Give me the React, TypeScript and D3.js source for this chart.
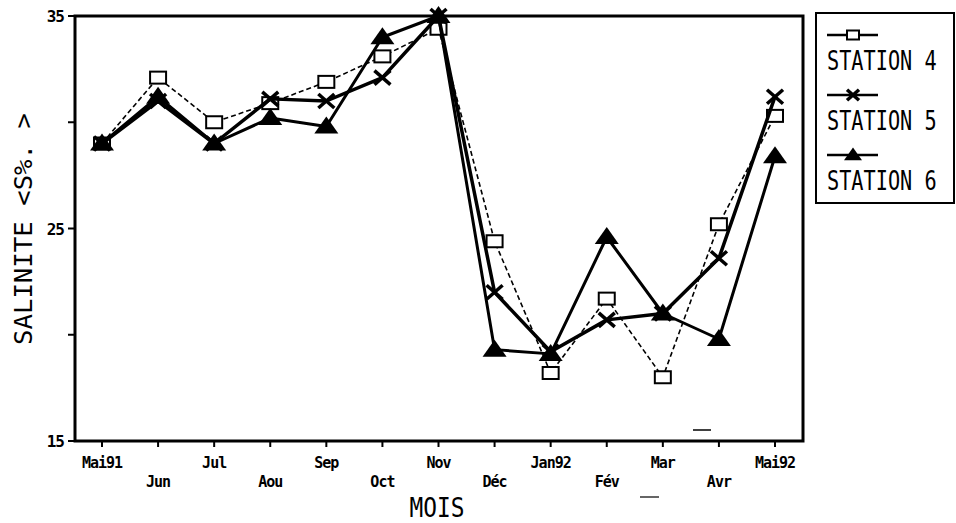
import React from 'react';
import * as d3 from 'd3';

const months = ['Mai91', 'Jun', 'Jul', 'Aou', 'Sep', 'Oct', 'Nov', 'Déc', 'Jan92', 'Fév', 'Mar', 'Avr', 'Mai92'];
const station4 = [29, 32.1, 30.0, 30.9, 31.9, 33.1, 34.4, 24.4, 18.2, 21.7, 18.0, 25.2, 30.3];
const station5 = [29, 31.0, 29.0, 31.1, 31.0, 32.1, 35.0, 22.0, 19.2, 20.7, 21.0, 23.6, 31.2];
const station6 = [29, 31.2, 29.0, 30.2, 29.8, 34.0, 35.0, 19.3, 19.1, 24.6, 21.0, 19.8, 28.4];
const yTicks = [15, 20, 25, 30, 35];
const yLabels = [15, 25, 35];

const width = 956;
const height = 523;
const frame = { left: 75, right: 803, top: 16, bottom: 441 };

const x = d3.scaleLinear().domain([0, months.length - 1]).range([102, 775]);
const y = d3.scaleLinear().domain([15, 35]).range([frame.bottom, frame.top]);

const mono = '"DejaVu Sans Mono", "Liberation Mono", monospace';

type Marker = 'square' | 'cross' | 'triangle';

const series: Array<{ name: string; values: number[]; marker: Marker; width: number; dash?: string }> = [
  { name: 'STATION 4', values: station4, marker: 'square', width: 1.6, dash: '5,3' },
  { name: 'STATION 6', values: station6, marker: 'triangle', width: 3 },
  { name: 'STATION 5', values: station5, marker: 'cross', width: 3.5 },
];

const legendOrder = ['STATION 4', 'STATION 5', 'STATION 6'];

function Symbol({ marker, cx, cy, k = 1 }: { marker: Marker; cx: number; cy: number; k?: number }) {
  if (marker === 'square') {
    return <rect x={cx - 8 * k} y={cy - 6 * k} width={16 * k} height={12 * k} fill="#fff" stroke="#000" strokeWidth={2} />;
  }
  if (marker === 'triangle') {
    return <path d={`M${cx},${cy - 10 * k}L${cx + 12 * k},${cy + 7 * k}L${cx - 12 * k},${cy + 7 * k}Z`} fill="#000" />;
  }
  return (
    <g stroke="#000" strokeWidth={3.5}>
      <line x1={cx - 8 * k} y1={cy - 7 * k} x2={cx + 8 * k} y2={cy + 7 * k} />
      <line x1={cx - 8 * k} y1={cy + 7 * k} x2={cx + 8 * k} y2={cy - 7 * k} />
    </g>
  );
}

export default function App() {
  const line = d3
    .line<number>()
    .x((_, i) => x(i))
    .y((d) => y(d));

  return (
    <div style={{ position: 'absolute', left: 0, top: 0 }}>
      <svg width={width} height={height} style={{ display: 'block', background: '#fff' }}>
        {/* frame */}
        <rect
          x={frame.left}
          y={frame.top}
          width={frame.right - frame.left}
          height={frame.bottom - frame.top}
          fill="none"
          stroke="#000"
          strokeWidth={3}
        />

        {/* y ticks */}
        {yTicks.map((t) => (
          <line key={t} x1={frame.left - 7} x2={frame.left} y1={y(t)} y2={y(t)} stroke="#000" strokeWidth={2} />
        ))}
        {yLabels.map((t) => (
          <text
            key={t}
            x={frame.left - 11}
            y={y(t) + 6}
            textAnchor="end"
            fontFamily={mono}
            fontWeight="bold"
            fontSize={16}
            letterSpacing={-1}
          >
            {t}
          </text>
        ))}

        {/* x ticks */}
        {months.map((m, i) => (
          <g key={m}>
            <line x1={x(i)} x2={x(i)} y1={frame.bottom} y2={frame.bottom + 6} stroke="#000" strokeWidth={2} />
            <text
              x={x(i)}
              y={i % 2 === 0 ? 468 : 487}
              textAnchor="middle"
              fontFamily={mono}
              fontWeight="bold"
              fontSize={15}
              letterSpacing={-1}
            >
              {m}
            </text>
          </g>
        ))}

        {/* axis titles */}
        <text
          transform={`translate(32,229) rotate(-90)`}
          textAnchor="middle"
          fontFamily={mono}
          fontSize={24}
          textLength={232}
          lengthAdjust="spacingAndGlyphs"
        >
          SALINITE &lt;S%. &gt;
        </text>
        <text
          x={437}
          y={517}
          textAnchor="middle"
          fontFamily={mono}
          fontSize={26}
          textLength={55}
          lengthAdjust="spacingAndGlyphs"
        >
          MOIS
        </text>

        {/* scan artifacts */}
        <line x1={693} x2={711} y1={430} y2={430} stroke="#000" strokeWidth={1.5} />
        <line x1={640} x2={659} y1={497} y2={497} stroke="#000" strokeWidth={1.2} />

        {/* series */}
        {series.map((s) => (
          <g key={s.name}>
            <path
              d={line(s.values) ?? ''}
              fill="none"
              stroke="#000"
              strokeWidth={s.width}
              strokeDasharray={s.dash}
              strokeLinejoin="round"
            />
            {s.values.map((v, i) => (
              <Symbol key={i} marker={s.marker} cx={x(i)} cy={y(v)} />
            ))}
          </g>
        ))}

        {/* legend */}
        <rect x={816} y={13} width={138} height={190} fill="#fff" stroke="#000" strokeWidth={2} />
        {legendOrder.map((name, i) => {
          const s = series.find((d) => d.name === name)!;
          const ly = 35 + i * 60;
          return (
            <g key={name}>
              <line x1={827} x2={878} y1={ly} y2={ly} stroke="#000" strokeWidth={2.5} />
              <Symbol marker={s.marker} cx={853} cy={ly} k={0.75} />
              <text
                transform={`translate(827,${ly + 35}) scale(0.92,1.2)`}
                fontFamily={mono}
                fontSize={22}
              >
                {name}
              </text>
            </g>
          );
        })}
      </svg>
    </div>
  );
}
